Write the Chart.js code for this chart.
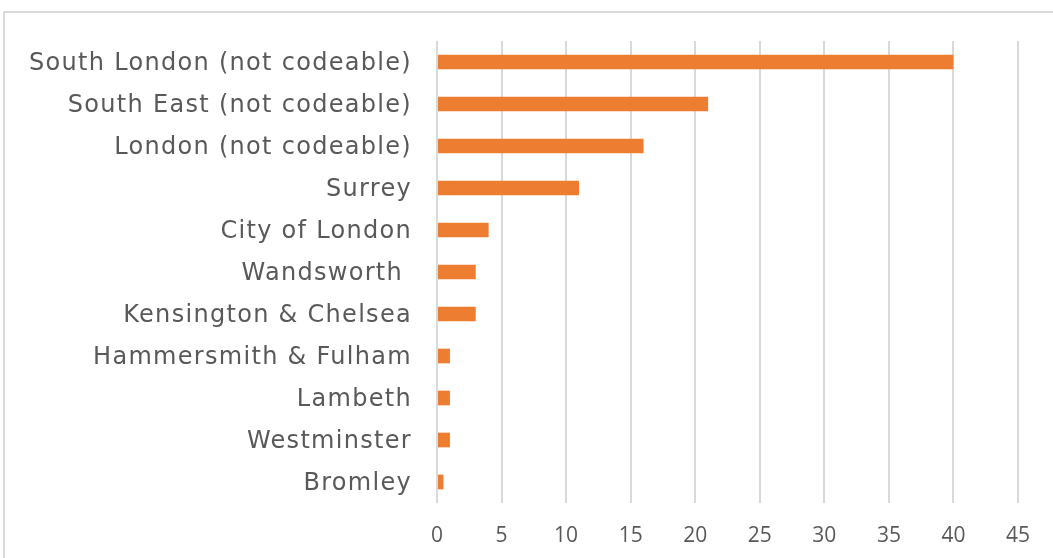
<!DOCTYPE html>
<html>
<head>
<meta charset="utf-8">
<script src="https://cdn.jsdelivr.net/npm/chart.js@4"></script>
<style>
  html, body { margin: 0; padding: 0; overflow: hidden; background: #fff; }
  #wrap { position: relative; width: 1053px; height: 558px; }
  #frame { position: absolute; left: 3px; top: 11px; width: 1100px; height: 600px; border: 2px solid #d9d9d9; box-sizing: border-box; }
  canvas { position: absolute; left: 0; top: 0; }
</style>
</head>
<body>
<div id="wrap">
  <div id="frame"></div>
  <canvas id="areaChart" width="1053" height="558"></canvas>
</div>
<script>
const areas = [
  'South London (not codeable)',
  'South East (not codeable)',
  'London (not codeable)',
  'Surrey',
  'City of London',
  'Wandsworth ',
  'Kensington & Chelsea',
  'Hammersmith & Fulham',
  'Lambeth',
  'Westminster',
  'Bromley'
];
const counts = [40, 21, 16, 11, 4, 3, 3, 1, 1, 1, 0.5];
const axisMax = 45;
const axisStep = 5;

// slightly wider category labels: letter spacing only for the y labels
const labelSpacing = {
  id: 'labelSpacing',
  beforeDraw(chart) { chart.ctx.letterSpacing = '1.3px'; },
  afterDatasetsDraw(chart) { chart.ctx.letterSpacing = '0px'; }
};

new Chart(document.getElementById('areaChart'), {
  type: 'bar',
  data: {
    labels: areas,
    datasets: [{
      data: counts,
      backgroundColor: '#ED7D31',
      barPercentage: 0.7,
      categoryPercentage: 0.5
    }]
  },
  options: {
    indexAxis: 'y',
    responsive: false,
    animation: false,
    layout: { padding: { left: 0, top: 41, right: 35, bottom: 0 } },
    plugins: { legend: { display: false }, tooltip: { enabled: false } },
    scales: {
      x: {
        min: 0,
        max: axisMax,
        ticks: {
          stepSize: axisStep,
          color: '#595959',
          font: { family: 'Open Sans', size: 21 },
          padding: 20,
          z: 1
        },
        grid: { color: '#d9d9d9', lineWidth: 2, drawTicks: false },
        border: { display: false },
        afterFit: function (scale) { scale.height = 55; }
      },
      y: {
        ticks: {
          color: '#595959',
          font: { family: 'DejaVu Sans', size: 24 },
          padding: 25,
          labelOffset: 2
        },
        grid: { display: false, drawTicks: false },
        border: { display: false },
        afterFit: function (scale) { scale.width = 437; }
      }
    }
  },
  plugins: [labelSpacing]
});
</script>
</body>
</html>
